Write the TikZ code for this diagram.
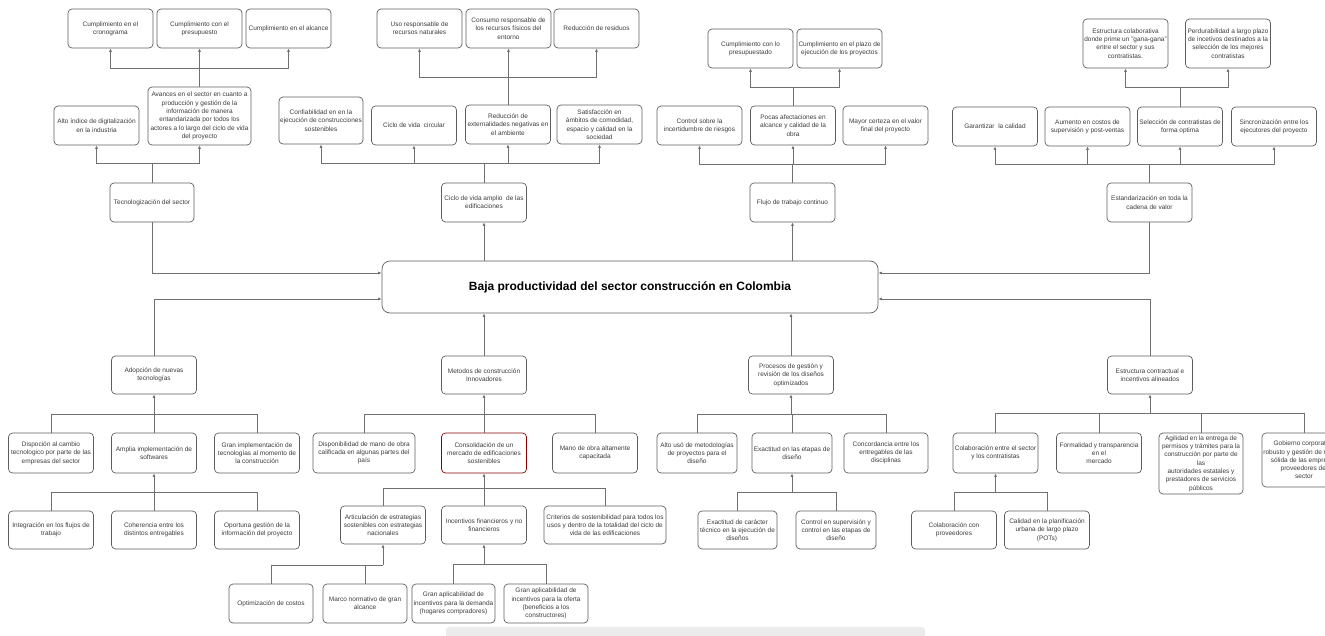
\documentclass[tikz,border=0pt]{standalone}
\usepackage{fontspec}
\setmainfont{Liberation Sans}
\usepackage{xcolor}
\usepackage{tikz}
\usetikzlibrary{arrows.meta,calc}

\definecolor{boxline}{HTML}{5E5E5E}
\definecolor{boxtext}{HTML}{3C3C3C}
\definecolor{linkgray}{HTML}{707070}

\begin{document}
\begin{tikzpicture}[
  x=1pt, y=-1pt,
  box/.style   = {draw=boxline, line width=0.7pt, rounded corners=4pt,
                  minimum width=85pt, minimum height=39pt, inner sep=1pt,
                  align=center, text=boxtext,
                  font=\fontsize{6.5}{8.3}\selectfont},
  redbox/.style  = {box, draw=red!55!black},
  mainbox/.style = {draw=boxline, line width=0.7pt, rounded corners=8pt,
                  minimum width=496pt, minimum height=52pt,
                  font=\fontsize{12}{14}\selectfont\bfseries},
  plain/.style = {draw=linkgray, line width=0.8pt},
  link/.style  = {plain, -{Latex[length=3.5pt,width=3pt]}}
]
  \useasboundingbox (0,0) rectangle (1325,635);
  \clip (0,0) rectangle (1325,635);

  % Center
  \node[mainbox] (main) at (630,287) {Baja productividad del sector construcción en Colombia};

  % Upper branch 1: tecnologizacion
  \node[box] (cron)    at (110.5,28.5) {Cumplimiento en el\\cronograma};
  \node[box] (presu)   at (199.5,28.5) {Cumplimiento con el\\presupuesto};
  \node[box] (alcance) at (288.5,28.5) {Cumplimiento en el alcance};
  \node[box] (alto)    at (96.5,125.5) {Alto índice de digitalización\\en la industria};
  \node[box, minimum width=103pt, minimum height=58pt] (avan) at (199.5,116)
    {Avances en el sector en cuanto a\\producción y gestión de la\\información de manera\\entandarizada por todos los\\actores a lo largo del ciclo de vida\\del proyecto};
  \node[box, minimum width=84pt] (tec) at (152,202.5) {Tecnologización del sector};

  % Upper branch 2: ciclo de vida
  \node[box] (uso)     at (419.5,28.5) {Uso responsable de\\recursos naturales};
  \node[box] (consumo) at (508.5,28.5) {Consumo responsable de\\los recursos físicos del\\entorno};
  \node[box] (resid)   at (596.5,28.5) {Reducción de residuos};
  \node[box, minimum width=84pt, minimum height=47pt] (confia) at (321,120.5)
    {Confiabilidad en en la\\ejecución de construcciones\\sostenibles};
  \node[box] (circ)    at (414,125.5) {Ciclo de vida\ \ circular};
  \node[box] (extern)  at (508,124.5) {Reducción de\\externalidades negativas en\\el ambiente};
  \node[box] (satis)   at (599.5,124.5) {Satisfacción en\\ámbitos de comodidad,\\espacio y calidad en la\\sociedad};
  \node[box] (ciclo)   at (484,202.5) {Ciclo de vida amplio\ \ de las\\edificaciones};

  % Upper branch 3: flujo de trabajo
  \node[box] (cpres)   at (750.5,48.5) {Cumplimiento con lo\\presupuestado};
  \node[box] (cplazo)  at (839.5,48.5) {Cumplimiento en el plazo de\\ejecución de los proyectos};
  \node[box] (incert)  at (699.5,125.5) {Control sobre la\\incertidumbre de riesgos};
  \node[box] (pocas)   at (793,125.5) {Pocas afectaciones en\\alcance y calidad de la\\obra};
  \node[box] (certeza) at (885.5,125.5) {Mayor certeza en el valor\\final del proyecto};
  \node[box] (flujo)   at (792.5,202.5) {Flujo de trabajo continuo};

  % Upper branch 4: estandarizacion
  \node[box, minimum height=49pt] (colab)  at (1125.5,43.5)
    {Estructura colaborativa\\donde prime un "gana-gana"\\entre el sector y sus\\contratistas.};
  \node[box, minimum height=49pt] (perdur) at (1228,43.5)
    {Perdurabilidad a largo plazo\\de incetivos destinados a la\\selección de los mejores\\contratistas};
  \node[box] (calid)  at (995,126.5) {Garantizar\ \ la calidad};
  \node[box] (aument) at (1087.5,126.5) {Aumento en costos de\\supervisión y post-ventas};
  \node[box] (selec)  at (1180,126.5) {Selección de contratistas de\\forma optima};
  \node[box] (sincro) at (1274,126.5) {Sincronización entre los\\ejecutores del proyecto};
  \node[box] (estand) at (1149.5,202.5) {Estandarización en toda la\\cadena de valor};

  % Lower branch 1: adopcion
  \node[box, minimum height=38pt] (adop) at (154,375) {Adopción de nuevas\\tecnologías};
  \node[box, minimum height=40pt] (disp)    at (51,453) {Dispoción al cambio\\tecnologico por parte de las\\empresas del sector};
  \node[box, minimum height=40pt] (ampl)    at (154,453) {Amplia implementación de\\softwares};
  \node[box, minimum height=40pt] (granimp) at (257,453) {Gran implementación de\\tecnologías al momento de\\la construcción};
  \node[box, minimum height=38pt] (integ) at (51,530) {Integración en los flujos de\\trabajo};
  \node[box, minimum height=38pt] (coher) at (154,530) {Coherencia entre los\\distintos entregables};
  \node[box, minimum height=38pt] (oport) at (257,530) {Oportuna gestión de la\\información del proyecto};

  % Lower branch 2: metodos
  \node[box, minimum height=38pt] (metod) at (484,375) {Metodos de construcción\\Innovadores};
  \node[box, minimum width=102pt, minimum height=40pt] (dispmo) at (364,453)
    {Disponibilidad de mano de obra\\calificada en algunas partes del\\país};
  \node[redbox, minimum height=40pt] (consol) at (484,453) {Consolidación de un\\mercado de edificaciones\\sostenibles};
  \node[box, minimum height=40pt] (manoob) at (595,453) {Mano de obra altamente\\capacitada};
  \node[box, minimum height=38pt] (artic)  at (383,525) {Articulación de estrategias\\sostenibles con estrategias\\nacionales};
  \node[box, minimum height=38pt] (incent) at (484,525) {Incentivos financieros y no\\financieros};
  \node[box, minimum width=122pt, minimum height=38pt] (criter) at (605,525)
    {Criterios de sostenibilidad para todos los\\usos y dentro de la totalidad del ciclo de\\vida de las edificaciones};
  \node[box, minimum width=84pt] (optim)  at (271,603.5) {Optimización de costos};
  \node[box, minimum width=84pt] (marco)  at (365,603.5) {Marco normativo de gran\\alcance};
  \node[box, minimum width=83pt] (demand) at (453.5,603.5) {Gran aplicabilidad de\\incentivos para la demanda\\(hogares compradores)};
  \node[box, minimum width=84pt] (oferta) at (546,603.5) {Gran aplicabilidad de\\incentivos para la oferta\\(beneficios a los\\constructores)};

  % Lower branch 3: procesos
  \node[box, minimum height=38pt] (proces) at (791,375) {Procesos de gestión y\\revisión de los diseños\\optimizados};
  \node[box, minimum width=80pt, minimum height=40pt] (altouso) at (697,453) {Alto usó de metodologías\\de proyectos para el\\diseño};
  \node[box, minimum width=80pt, minimum height=40pt] (exact)   at (792,453) {Exactitud en las etapas de\\diseño};
  \node[box, minimum width=84pt, minimum height=40pt] (concord) at (886,453) {Concordancia entre los\\entregables de las\\disciplinas};
  \node[box, minimum width=79pt, minimum height=38pt] (exactec) at (737.5,530) {Exactitud de carácter\\técnico en la ejecución de\\diseños};
  \node[box, minimum width=80pt, minimum height=38pt] (ctrlsup) at (836,530) {Control en supervisión y\\control en las etapas de\\diseño};

  % Lower branch 4: estructura contractual
  \node[box, minimum height=38pt] (estruc) at (1150,375) {Estructura contractual e\\incentivos alineados};
  \node[box, minimum height=40pt] (colabsec) at (995.5,453) {Colaboración entre el sector\\y los contratistas};
  \node[box, minimum height=40pt] (formal)   at (1099,453) {Formalidad y transparencia\\en el\\mercado};
  \node[box, minimum width=84pt, minimum height=61pt] (agil) at (1201,463.5)
    {Agilidad en la entrega de\\permisos y trámites para la\\construcción por parte de\\las\\autoridades estatales y\\prestadores de servicios\\públicos};
  \node[box, minimum width=84pt, minimum height=54pt] (gobier) at (1304,460)
    {Gobierno corporativo\\robusto y gestión de riesgos\\sólida de las empresas\\proveedores del\\sector};
  \node[box, minimum height=38pt] (colabprov) at (954,530) {Colaboración con\\proveedores};
  \node[box, minimum height=38pt] (calplan)   at (1047,530) {Calidad en la planificación\\urbana de largo plazo\\(POTs)};

  % Links to and from the center
  \draw[link] (tec.south) |- ($(main.west)+(0,-14)$);
  \draw[link] (main.north -| ciclo) -- (ciclo.south);
  \draw[link] (main.north -| flujo) -- (flujo.south);
  \draw[link] (estand.south) |- ($(main.east)+(0,-14)$);
  \draw[link] (adop.north) |- ($(main.west)+(0,12)$);
  \draw[link] (metod.north) -- (metod.north |- main.south);
  \draw[link] (proces.north) -- (proces.north |- main.south);
  \draw[link] (estruc.north) |- ($(main.east)+(0,12)$);

  % Upper trees (arrows point outwards)
  \coordinate (tecbus) at (152,163);
  \draw[plain] (tec.north) -- (tecbus);
  \foreach \n in {alto,avan} \draw[link] (tecbus) -| (\n.south);
  \coordinate (avanbus) at (199.5,68);
  \draw[plain] (avan.north) -- (avanbus);
  \foreach \n in {cron,presu,alcance} \draw[link] (avanbus) -| (\n.south);

  \coordinate (ciclobus) at (484,163);
  \draw[plain] (ciclo.north) -- (ciclobus);
  \foreach \n in {confia,circ,extern,satis} \draw[link] (ciclobus) -| (\n.south);
  \coordinate (externbus) at (508,77);
  \draw[plain] (extern.north) -- (externbus);
  \foreach \n in {uso,consumo,resid} \draw[link] (externbus) -| (\n.south);

  \coordinate (flujobus) at (792.5,164);
  \draw[plain] (flujo.north) -- (flujobus);
  \foreach \n in {incert,pocas,certeza} \draw[link] (flujobus) -| (\n.south);
  \coordinate (pocasbus) at (793,87);
  \draw[plain] (pocas.north) -- (pocasbus);
  \foreach \n in {cpres,cplazo} \draw[link] (pocasbus) -| (\n.south);

  \coordinate (estandbus) at (1149.5,164);
  \draw[plain] (estand.north) -- (estandbus);
  \foreach \n in {calid,aument,selec,sincro} \draw[link] (estandbus) -| (\n.south);
  \coordinate (selecbus) at (1180,87);
  \draw[plain] (selec.north) -- (selecbus);
  \foreach \n in {colab,perdur} \draw[link] (selecbus) -| (\n.south);

  % Lower trees (arrows point to the parent)
  \coordinate (adopbus) at (154,414);
  \foreach \n in {disp,ampl,granimp} \draw[plain] (\n.north) |- (adopbus);
  \draw[link] (adopbus) -- (adop.south);
  \coordinate (amplbus) at (154,492);
  \foreach \n in {integ,coher,oport} \draw[plain] (\n.north) |- (amplbus);
  \draw[link] (amplbus) -- (ampl.south);

  \coordinate (metodbus) at (484,414);
  \foreach \n in {dispmo,consol,manoob} \draw[plain] (\n.north) |- (metodbus);
  \draw[link] (metodbus) -- (metod.south);
  \coordinate (consolbus) at (484,488);
  \foreach \n in {artic,incent,criter} \draw[plain] (\n.north) |- (consolbus);
  \draw[link] (consolbus) -- (consol.south);
  \coordinate (articbus) at (383,565);
  \foreach \n in {optim,marco} \draw[plain] (\n.north) |- (articbus);
  \draw[link] (articbus) -- (artic.south);
  \coordinate (incentbus) at (484,564);
  \foreach \n in {demand,oferta} \draw[plain] (\n.north) |- (incentbus);
  \draw[link] (incentbus) -- (incent.south);

  \coordinate (procesbus) at (791,414);
  \foreach \n in {altouso,exact,concord} \draw[plain] (\n.north) |- (procesbus);
  \draw[link] (procesbus) -- (proces.south);
  \coordinate (exactbus) at (792,492);
  \foreach \n in {exactec,ctrlsup} \draw[plain] (\n.north) |- (exactbus);
  \draw[link] (exactbus) -- (exact.south);

  \coordinate (estrucbus) at (1150,413);
  \foreach \n in {colabsec,formal,agil,gobier} \draw[plain] (\n.north) |- (estrucbus);
  \draw[link] (estrucbus) -- (estruc.south);
  \coordinate (colabbus) at (995.5,492);
  \foreach \n in {colabprov,calplan} \draw[plain] (\n.north) |- (colabbus);
  \draw[link] (colabbus) -- (colabsec.south);

  % scroll bar strip at the bottom edge
  \fill[black!8, rounded corners=3pt] (446,627) rectangle (925,640);
\end{tikzpicture}
\end{document}
